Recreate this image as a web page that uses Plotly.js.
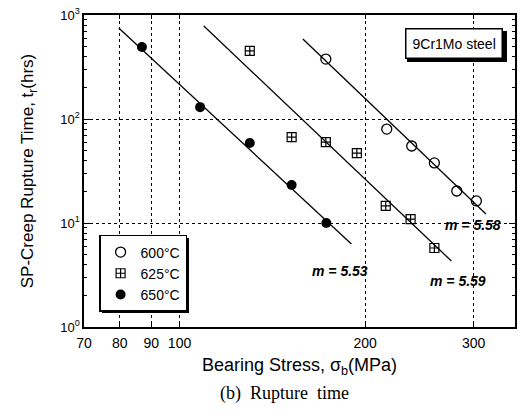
<!DOCTYPE html>
<html><head><meta charset="utf-8">
<script src="https://cdn.plot.ly/plotly-3.0.1.min.js"></script>
<style>html,body{margin:0;padding:0;background:#fff;}#chart{width:518px;height:418px;}</style>
</head><body><div id="chart"></div>
<script>
// Data
const temps = ['600°C', '625°C', '650°C'];
const stress600 = [172.7, 216.8, 238, 259, 281.6, 303];
const time600 = [377, 80, 55, 37.8, 20.3, 16.3];
const stress625 = [130, 152, 172.7, 193.9, 216, 237, 259];
const time625 = [451, 67, 60, 47, 14.6, 10.9, 5.75];
const stress650 = [86.9, 108, 130, 152, 173];
const time650 = [492, 130, 58.8, 23.2, 10];
// Fitted lines (end points)
const fit600x = [158.5, 314];
const fit600y = [588, 12.2];
const fit625x = [109.5, 276];
const fit625y = [784, 4.31];
const fit650x = [79.7, 190];
const fit650y = [750, 6.28];
const slopeLabels = ['m = 5.58', 'm = 5.59', 'm = 5.53'];
const slopeX = [299, 283, 182];
const slopeY = [9.57, 2.77, 3.45];
const xTicks = [70, 80, 90, 100, 200, 300];
const yTicks = [1, 10, 100, 1000];
const yTickText = ['10<sup>0</sup>', '10<sup>1</sup>', '10<sup>2</sup>', '10<sup>3</sup>'];
const yMinor = [2,3,4,5,6,7,8,9,20,30,40,50,60,70,80,90,200,300,400,500,600,700,800,900];

const font = 'Liberation Sans, Arial, sans-serif';
const traces = [
  {x: stress600, y: time600, name: temps[0], mode: 'markers', type: 'scatter',
   marker: {symbol: 'circle-open', size: 10, color: '#000', line: {width: 1.3, color: '#000'}}},
  {x: stress625, y: time625, name: temps[1], mode: 'markers', type: 'scatter',
   marker: {symbol: 'square-cross-open', size: 9, color: '#000', line: {width: 1.2, color: '#000'}}},
  {x: stress650, y: time650, name: temps[2], mode: 'markers', type: 'scatter',
   marker: {symbol: 'circle', size: 10, color: '#000'}},
  {x: fit600x, y: fit600y, mode: 'lines', showlegend: false, line: {color: '#000', width: 1.3}},
  {x: fit625x, y: fit625y, mode: 'lines', showlegend: false, line: {color: '#000', width: 1.3}},
  {x: fit650x, y: fit650y, mode: 'lines', showlegend: false, line: {color: '#000', width: 1.3}}
];

const annotations = slopeLabels.map((t, i) => ({
  x: Math.log10(slopeX[i]), y: Math.log10(slopeY[i]), xref: 'x', yref: 'y',
  text: '<b><i>' + t + '</i></b>', showarrow: false,
  font: {family: font, size: 14, color: '#000'}
}));
annotations.push({
  xref: 'paper', yref: 'paper', x: 0.858, y: 0.909, xanchor: 'center', yanchor: 'middle',
  text: '9Cr1Mo steel', showarrow: false, bgcolor: '#fff', bordercolor: '#000', borderwidth: 1.5,
  borderpad: 6, font: {family: font, size: 14, color: '#000'}
});
annotations.push({
  xref: 'paper', yref: 'paper', x: 0.466, y: -0.212, xanchor: 'center', yanchor: 'middle',
  text: '(b)  Rupture  time', showarrow: false,
  font: {family: 'Liberation Serif, Times New Roman, serif', size: 18, color: '#000'}
});

// drop shadows (paper coordinates) behind the legend and the label box
const shadow = (x0, x1, y0, y1) => ({type: 'rect', xref: 'paper', yref: 'paper', layer: 'above',
  x0: x0, x1: x1, y0: y0, y1: y1, fillcolor: '#000', line: {width: 0}});

const layout = {
  width: 518, height: 418,
  margin: {l: 84, r: 3, t: 15, b: 91},
  paper_bgcolor: '#fff', plot_bgcolor: '#fff',
  font: {family: font, color: '#000'},
  xaxis: {
    type: 'log', range: [Math.log10(70), Math.log10(350)],
    tickmode: 'array', tickvals: xTicks, ticktext: xTicks.map(String),
    ticks: 'inside', ticklen: 4, tickwidth: 1, tickcolor: '#000', ticklabelstandoff: 3,
    showline: true, linewidth: 1.6, linecolor: '#000', mirror: 'ticks',
    showgrid: true, gridcolor: '#000', griddash: 'dot', gridwidth: 1,
    zeroline: false,
    tickfont: {family: font, size: 14, color: '#000'},
    title: {text: 'Bearing Stress, σ<sub>b</sub>(MPa)', font: {family: font, size: 18, color: '#000'}, standoff: 8}
  },
  yaxis: {
    type: 'log', range: [0, 3],
    tickmode: 'array', tickvals: yTicks, ticktext: yTickText,
    ticks: 'inside', ticklen: 6, tickwidth: 1, tickcolor: '#000',
    minor: {tickmode: 'array', tickvals: yMinor, ticks: 'inside', ticklen: 3, tickcolor: '#000', showgrid: false},
    showline: true, linewidth: 1.6, linecolor: '#000', mirror: 'ticks',
    showgrid: true, gridcolor: '#000', griddash: 'dot', gridwidth: 1,
    zeroline: false,
    tickfont: {family: font, size: 13, color: '#000'},
    title: {text: 'SP-Creep Rupture Time, t<sub>r</sub>(hrs)', font: {family: font, size: 17, color: '#000'}, standoff: 22}
  },
  legend: {
    x: 0.035, y: 0.295, xanchor: 'left', yanchor: 'top',
    bgcolor: '#fff', bordercolor: '#000', borderwidth: 1.5,
    font: {family: font, size: 14, color: '#000'}
  },
  shapes: [
    shadow(0.0418, 0.2436, 0.2853, 0.0449),
    shadow(0.7494, 0.9814, 0.9487, 0.8494)
  ],
  annotations: annotations,
  showlegend: true
};
Plotly.newPlot('chart', traces, layout, {displayModeBar: false, staticPlot: true});
</script></body></html>
